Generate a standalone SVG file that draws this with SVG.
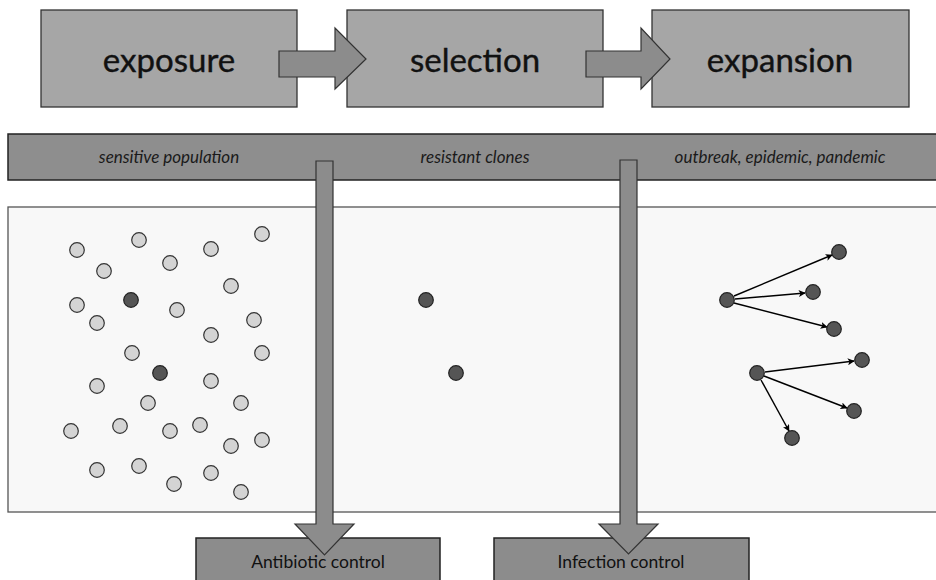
<svg xmlns="http://www.w3.org/2000/svg" width="936" height="580" viewBox="0 0 936 580">
  <style>
    .stage { fill: #a6a6a6; stroke: #333; stroke-width: 1.3; }
    .stage-label { font-family: Lato, "Open Sans", sans-serif; font-size: 33px; fill: #111; text-anchor: middle; stroke: #111; stroke-width: 0.4; }
    .band { fill: #8e8e8e; stroke: #222; stroke-width: 1.5; }
    .band-label { font-family: Lato, "Open Sans", sans-serif; font-style: italic; font-size: 17px; fill: #1a1a1a; text-anchor: middle; }
    .panel { fill: #f8f8f8; stroke: #555; stroke-width: 1.3; }
    .block-arrow { fill: #8c8c8c; stroke: #333; stroke-width: 1.2; stroke-linejoin: miter; }
    .control { fill: #8c8c8c; stroke: #222; stroke-width: 1.5; }
    .control-label { font-family: Lato, "Open Sans", sans-serif; font-size: 17.5px; fill: #111; text-anchor: middle; }
    .cell { fill: #d4d4d4; stroke: #333; stroke-width: 1.2; }
    .res { fill: #555; stroke: #222; stroke-width: 1.2; }
    .spread { stroke: #000; stroke-width: 1.4; fill: none; marker-end: url(#tip); }
  </style>
  <defs>
    <marker id="tip" viewBox="0 0 10 10" refX="9" refY="5" markerWidth="7" markerHeight="7" orient="auto" markerUnits="userSpaceOnUse">
      <path d="M0,0 L10,5 L0,10 L2.5,5 z" fill="#000"/>
    </marker>
  </defs>

  <!-- stage boxes -->
  <g id="stage-exposure">
    <rect class="stage" x="41" y="10" width="256" height="97"/>
    <text class="stage-label" x="169" y="72">exposure</text>
  </g>
  <g id="stage-selection">
    <rect class="stage" x="347" y="10" width="256" height="97"/>
    <text class="stage-label" x="475" y="72">selection</text>
  </g>
  <g id="stage-expansion">
    <rect class="stage" x="652" y="10" width="257" height="97"/>
    <text class="stage-label" x="780" y="72">expansion</text>
  </g>

  <!-- stage-to-stage block arrows -->
  <g id="stage-arrows">
    <polygon class="block-arrow" points="279,51 335,51 335,28 366,59 335,89 335,77 279,77"/>
    <polygon class="block-arrow" points="586,51 641,51 641,28 670,59 641,89 641,77 586,77"/>
  </g>

  <!-- population band -->
  <g id="band">
    <rect class="band" x="8" y="134" width="940" height="46"/>
    <text class="band-label" x="169" y="163">sensitive population</text>
    <text class="band-label" x="475" y="163">resistant clones</text>
    <text class="band-label" x="780" y="163">outbreak, epidemic, pandemic</text>
  </g>

  <!-- population panel -->
  <g id="panel">
    <rect class="panel" x="8" y="207" width="940" height="305"/>
  </g>

  <!-- sensitive population -->
  <g id="sensitive-cells">
    <circle class="cell" cx="77" cy="250" r="7.3"/>
    <circle class="cell" cx="139" cy="240" r="7.3"/>
    <circle class="cell" cx="211" cy="249" r="7.3"/>
    <circle class="cell" cx="262" cy="234" r="7.3"/>
    <circle class="cell" cx="104" cy="271" r="7.3"/>
    <circle class="cell" cx="170" cy="263" r="7.3"/>
    <circle class="cell" cx="231" cy="286" r="7.3"/>
    <circle class="cell" cx="77" cy="305" r="7.3"/>
    <circle class="res" cx="131" cy="300" r="7.3"/>
    <circle class="cell" cx="177" cy="310" r="7.3"/>
    <circle class="cell" cx="97" cy="323" r="7.3"/>
    <circle class="cell" cx="254" cy="320" r="7.3"/>
    <circle class="cell" cx="211" cy="335" r="7.3"/>
    <circle class="cell" cx="132" cy="353" r="7.3"/>
    <circle class="cell" cx="262" cy="353" r="7.3"/>
    <circle class="res" cx="160" cy="373" r="7.3"/>
    <circle class="cell" cx="97" cy="386" r="7.3"/>
    <circle class="cell" cx="211" cy="381" r="7.3"/>
    <circle class="cell" cx="148" cy="403" r="7.3"/>
    <circle class="cell" cx="241" cy="403" r="7.3"/>
    <circle class="cell" cx="71" cy="431" r="7.3"/>
    <circle class="cell" cx="120" cy="426" r="7.3"/>
    <circle class="cell" cx="170" cy="431" r="7.3"/>
    <circle class="cell" cx="200" cy="425" r="7.3"/>
    <circle class="cell" cx="231" cy="446" r="7.3"/>
    <circle class="cell" cx="262" cy="440" r="7.3"/>
    <circle class="cell" cx="97" cy="470" r="7.3"/>
    <circle class="cell" cx="139" cy="466" r="7.3"/>
    <circle class="cell" cx="174" cy="484" r="7.3"/>
    <circle class="cell" cx="211" cy="473" r="7.3"/>
    <circle class="cell" cx="241" cy="492" r="7.3"/>
  </g>

  <!-- resistant clones -->
  <g id="resistant-clones">
    <circle class="res" cx="426" cy="300" r="7.3"/>
    <circle class="res" cx="456" cy="373" r="7.3"/>
  </g>

  <!-- spread -->
  <g id="spread-links">
    <line class="spread" x1="734" y1="296" x2="832" y2="255"/>
    <line class="spread" x1="735" y1="299" x2="805" y2="293"/>
    <line class="spread" x1="734" y1="303" x2="827" y2="327"/>
    <line class="spread" x1="765" y1="372" x2="854" y2="361"/>
    <line class="spread" x1="764" y1="376" x2="847" y2="408"/>
    <line class="spread" x1="761" y1="380" x2="789" y2="431"/>
  </g>
  <g id="spread-cells">
    <circle class="res" cx="727" cy="300" r="7.3"/>
    <circle class="res" cx="839" cy="252" r="7.3"/>
    <circle class="res" cx="813" cy="292" r="7.3"/>
    <circle class="res" cx="834" cy="329" r="7.3"/>
    <circle class="res" cx="757" cy="373" r="7.3"/>
    <circle class="res" cx="862" cy="360" r="7.3"/>
    <circle class="res" cx="854" cy="411" r="7.3"/>
    <circle class="res" cx="792" cy="438" r="7.3"/>
  </g>

  <!-- control boxes -->
  <g id="antibiotic-control">
    <rect class="control" x="196" y="538" width="244" height="50"/>
  </g>
  <g id="infection-control">
    <rect class="control" x="494" y="538" width="255" height="50"/>
  </g>

  <!-- down arrows into the control boxes -->
  <g id="control-arrows">
    <polygon class="block-arrow" points="316,161 333,161 333,524 354,524 324.5,555 295,524 316,524"/>
    <polygon class="block-arrow" points="620,160 637,160 637,524 658,524 628.5,554 599,524 620,524"/>
  </g>

  <g id="control-labels">
    <text class="control-label" x="318" y="568">Antibiotic control</text>
    <text class="control-label" x="621" y="568">Infection control</text>
  </g>
</svg>
